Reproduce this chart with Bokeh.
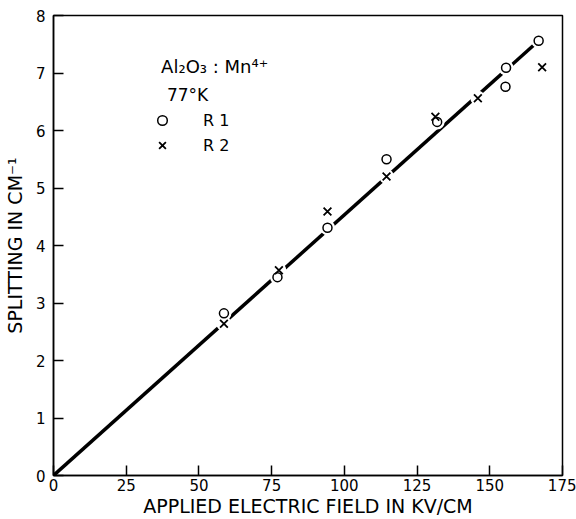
from bokeh.plotting import figure
from bokeh.models import Range1d, FixedTicker, Label, Legend, LegendItem
from bokeh.embed import file_html
from bokeh.resources import INLINE

# Data
r1_x = [58.6, 77.0, 94.2, 114.5, 131.9, 155.4, 155.6, 166.8]
r1_y = [2.82, 3.45, 4.31, 5.50, 6.15, 6.76, 7.09, 7.56]
r2_x = [58.6, 77.5, 94.2, 114.5, 131.3, 145.9, 168.0]
r2_y = [2.64, 3.57, 4.59, 5.20, 6.24, 6.56, 7.10]
fit_x = [0, 166.8]
fit_y = [0, 7.56]
x_ticks = [0, 25, 50, 75, 100, 125, 150, 175]
y_ticks = [0, 1, 2, 3, 4, 5, 6, 7, 8]

FONT = "DejaVu Sans"

p = figure(width=576, height=519, output_backend="svg", toolbar_location=None,
           x_range=Range1d(0, 175), y_range=Range1d(0, 8),
           min_border_left=53, min_border_right=14, min_border_top=15, min_border_bottom=41)
p.xgrid.visible = False
p.ygrid.visible = False
p.outline_line_color = "black"
p.outline_line_width = 1.5

for axes in (p.xaxis, p.yaxis):
    axes.axis_line_width = 1.5
    axes.major_tick_in = 10
    axes.major_tick_out = 0
    axes.major_tick_line_width = 1.5
    axes.minor_tick_line_color = None
    axes.major_label_text_font = FONT
    axes.major_label_text_font_size = "15px"
    axes.major_label_text_color = "black"
    axes.axis_label_text_font = FONT
    axes.axis_label_text_font_size = "19px"
    axes.axis_label_text_font_style = "normal"
    axes.axis_label_text_color = "black"

p.xaxis.major_label_standoff = 3
p.xaxis.axis_label_standoff = 1
p.yaxis.major_label_standoff = 8
p.yaxis.axis_label_standoff = 7

p.xaxis.ticker = FixedTicker(ticks=x_ticks)
p.yaxis.ticker = FixedTicker(ticks=y_ticks)
p.xaxis.axis_label = "APPLIED ELECTRIC FIELD IN KV/CM"
p.yaxis.axis_label = "SPLITTING IN CM\u207b\u00b9"

# fitted line
p.line(fit_x, fit_y, line_color="black", line_width=3.5)

# white halos to break the line around markers
p.scatter(r1_x, r1_y, marker="circle", size=15, fill_color="white", line_color=None)
p.scatter(r2_x, r2_y, marker="circle", size=15, fill_color="white", line_color=None)

c1 = p.scatter(r1_x, r1_y, marker="circle", size=9, fill_color="white",
               line_color="black", line_width=1.5)
c2 = p.scatter(r2_x, r2_y, marker="x", size=11, line_color="black", line_width=1.8)

legend = Legend(items=[LegendItem(label="R 1", renderers=[c1]),
                       LegendItem(label="R 2", renderers=[c2])],
                location=(97, 318), orientation="vertical",
                background_fill_alpha=0, border_line_color=None,
                padding=0, margin=0, spacing=1, glyph_width=24, glyph_height=24,
                label_standoff=29, label_text_font=FONT, label_text_font_size="16px",
                label_text_color="black", label_height=24)
p.add_layout(legend, "center")

p.add_layout(Label(x=37.0, y=6.93, text="Al\u2082O\u2083 : Mn\u2074\u207a", text_font=FONT,
                   text_font_size="18px", text_color="black"))
p.add_layout(Label(x=39.0, y=6.44, text="77\u00b0K", text_font=FONT,
                   text_font_size="17px", text_color="black"))

open("out.html", "w").write(file_html(p, INLINE))
